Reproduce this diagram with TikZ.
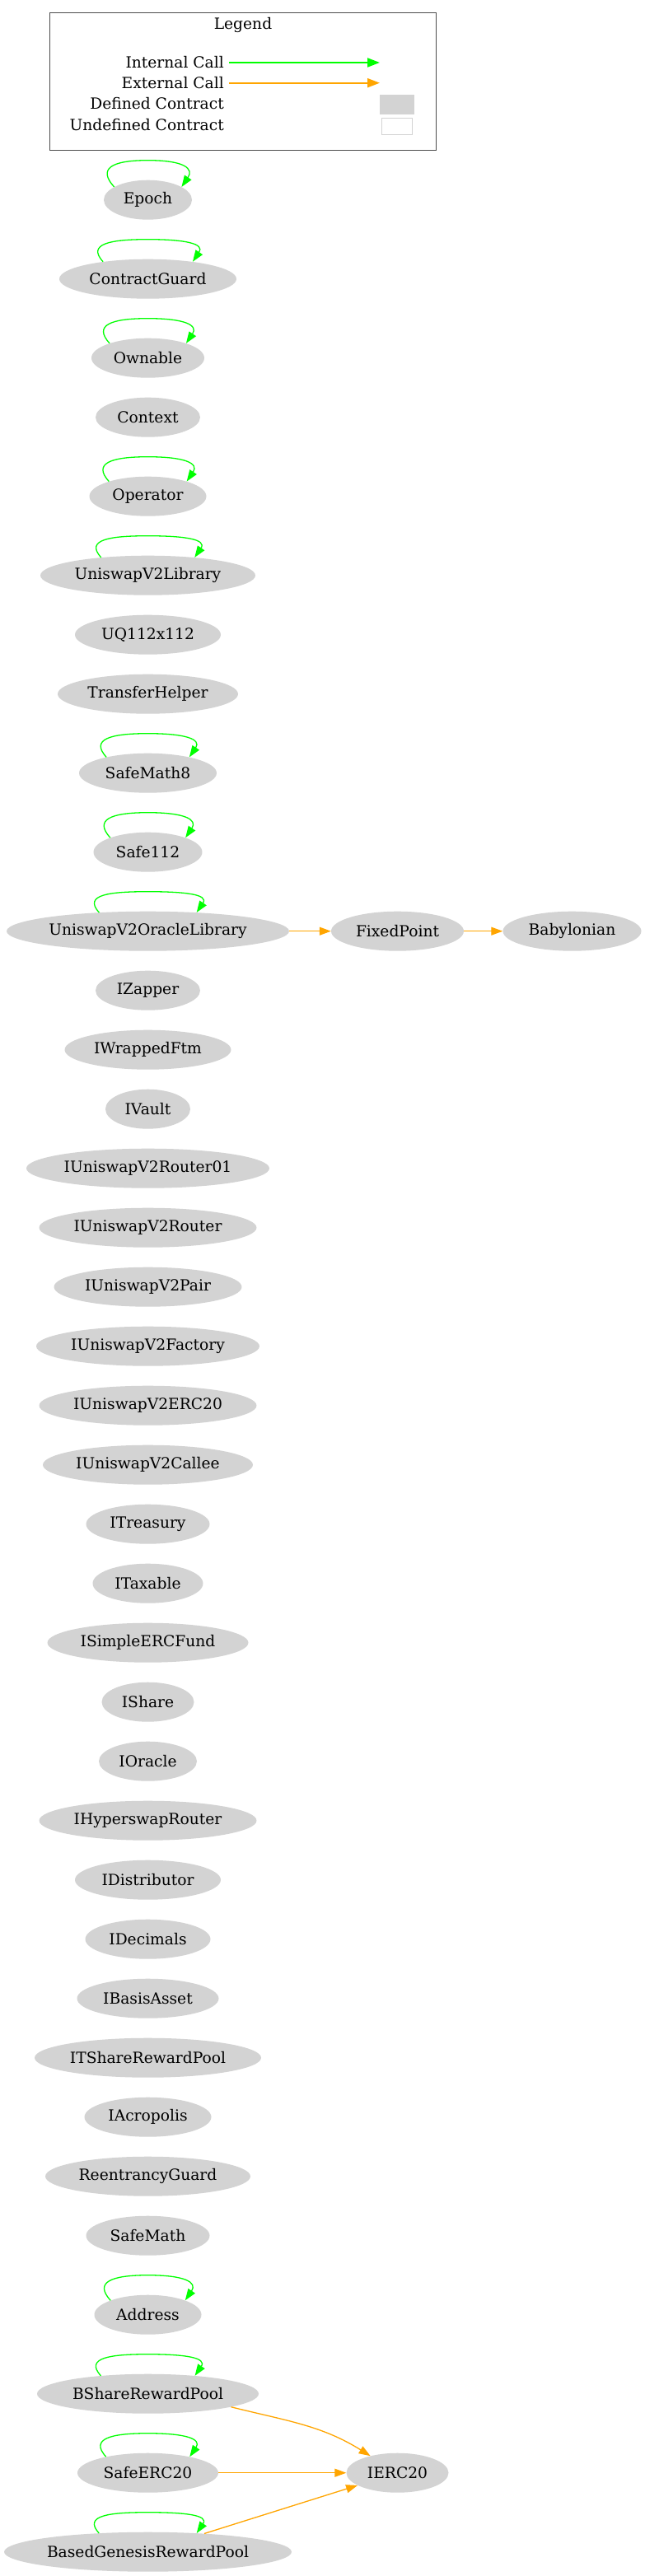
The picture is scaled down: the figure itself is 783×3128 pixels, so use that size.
\documentclass[tikz,border=0pt]{standalone}
\usepackage{fontspec}
\setmainfont{DejaVu Serif}
\usetikzlibrary{shapes.geometric, arrows.meta, positioning}
\definecolor{contractgray}{HTML}{D3D3D3}
\definecolor{callorange}{HTML}{FFA500}
\tikzstyle{contract} = [
  ellipse,
  minimum height=48pt,
  text centered,
  inner sep=0,
  fill=contractgray,
  font=\fontsize{18.67}{22}\selectfont
]
\tikzstyle{keytext} = [
  anchor=east,
  inner sep=0,
  font=\fontsize{18.67}{22}\selectfont
]
\tikzstyle{internal} = [
  draw=green,
  line width=1.3pt,
  -{Triangle[length=14pt,width=10pt]}
]
\tikzstyle{external} = [
  draw=callorange,
  line width=1.3pt,
  -{Triangle[length=14pt,width=10pt]}
]
\newcommand{\selfcall}[1]{\draw [internal] (#1.159) .. controls +(-20,22) and +(-45,0) .. ([yshift=48pt]#1.center) .. controls +(45,0) and +(15,22) .. (#1.21);}

\begin{document}
\begin{tikzpicture}[x=1pt, y=1pt, node distance=72pt]

    \useasboundingbox (0,0) rectangle (783,-3128);

    % legend
    \node (legendbox) [draw=black!70, line width=1.3pt, minimum width=469pt, minimum height=167pt, inner sep=0] at (294.8,-99.2) {};
    \node (legendtitle) [keytext, anchor=center] at (295,-30) {Legend};
    \node (internalkey) [keytext] at (272,-76) {Internal Call};
    \node (externalkey) [keytext] at (272,-100.7) {External Call};
    \node (definedkey) [keytext] at (272,-126) {Defined Contract};
    \node (undefinedkey) [keytext] at (272,-151.7) {Undefined Contract};
    \coordinate (internalend) at (461,-76);
    \coordinate (externalend) at (461,-100.7);
    \node (definedbox) [fill=contractgray, minimum width=42pt, minimum height=24pt, inner sep=0] at (482.4,-127.2) {};
    \node (undefinedbox) [draw=contractgray, line width=1.3pt, minimum width=37pt, minimum height=20pt, inner sep=0] at (482,-153.3) {};
    \draw [internal, line width=2pt, -{Triangle[length=15pt,width=11pt]}] ([xshift=6pt]internalkey.east) -- (internalend);
    \draw [external, line width=2pt, -{Triangle[length=15pt,width=11pt]}] ([xshift=6pt]externalkey.east) -- (externalend);

    % contracts
    \node (Epoch) [contract, minimum width=107pt] at (179.5,-242.7) {Epoch};
    \node (ContractGuard) [contract, minimum width=215pt, below of=Epoch, yshift=-24pt] {ContractGuard};
    \node (Ownable) [contract, minimum width=137pt, below of=ContractGuard, yshift=-24pt] {Ownable};
    \node (Context) [contract, minimum width=127pt, below of=Ownable] {Context};
    \node (Operator) [contract, minimum width=142pt, below of=Context, yshift=-24pt] {Operator};
    \node (UniswapV2Library) [contract, minimum width=261pt, below of=Operator, yshift=-24pt] {UniswapV2Library};
    \node (UQ112x112) [contract, minimum width=177pt, below of=UniswapV2Library] {UQ112x112};
    \node (TransferHelper) [contract, minimum width=219pt, below of=UQ112x112] {TransferHelper};
    \node (SafeMath8) [contract, minimum width=167pt, below of=TransferHelper, yshift=-24pt] {SafeMath8};
    \node (Safe112) [contract, minimum width=132pt, below of=SafeMath8, yshift=-24pt] {Safe112};
    \node (UniswapV2OracleLibrary) [contract, minimum width=343pt, below of=Safe112, yshift=-24pt] {UniswapV2OracleLibrary};
    \node (FixedPoint) [contract, minimum width=161pt, right of=UniswapV2OracleLibrary, xshift=231pt] {FixedPoint};
    \node (Babylonian) [contract, minimum width=168pt, right of=FixedPoint, xshift=140pt] {Babylonian};
    \node (IZapper) [contract, minimum width=127pt, below of=UniswapV2OracleLibrary] {IZapper};
    \node (IWrappedFtm) [contract, minimum width=202pt, below of=IZapper] {IWrappedFtm};
    \node (IVault) [contract, minimum width=103pt, below of=IWrappedFtm] {IVault};
    \node (IUniswapV2Router01) [contract, minimum width=295pt, below of=IVault] {IUniswapV2Router01};
    \node (IUniswapV2Router) [contract, minimum width=264pt, below of=IUniswapV2Router01] {IUniswapV2Router};
    \node (IUniswapV2Pair) [contract, minimum width=228pt, below of=IUniswapV2Router] {IUniswapV2Pair};
    \node (IUniswapV2Factory) [contract, minimum width=271pt, below of=IUniswapV2Pair] {IUniswapV2Factory};
    \node (IUniswapV2ERC20) [contract, minimum width=264pt, below of=IUniswapV2Factory] {IUniswapV2ERC20};
    \node (IUniswapV2Callee) [contract, minimum width=255pt, below of=IUniswapV2ERC20] {IUniswapV2Callee};
    \node (ITreasury) [contract, minimum width=150pt, below of=IUniswapV2Callee] {ITreasury};
    \node (ITaxable) [contract, minimum width=134pt, below of=ITreasury] {ITaxable};
    \node (ISimpleERCFund) [contract, minimum width=244pt, below of=ITaxable] {ISimpleERCFund};
    \node (IShare) [contract, minimum width=112pt, below of=ISimpleERCFund] {IShare};
    \node (IOracle) [contract, minimum width=119pt, below of=IShare] {IOracle};
    \node (IHyperswapRouter) [contract, minimum width=264pt, below of=IOracle] {IHyperswapRouter};
    \node (IDistributor) [contract, minimum width=177pt, below of=IHyperswapRouter] {IDistributor};
    \node (IDecimals) [contract, minimum width=152pt, below of=IDistributor] {IDecimals};
    \node (IBasisAsset) [contract, minimum width=172pt, below of=IDecimals] {IBasisAsset};
    \node (ITShareRewardPool) [contract, minimum width=275pt, below of=IBasisAsset] {ITShareRewardPool};
    \node (IAcropolis) [contract, minimum width=154pt, below of=ITShareRewardPool] {IAcropolis};
    \node (ReentrancyGuard) [contract, minimum width=249pt, below of=IAcropolis] {ReentrancyGuard};
    \node (SafeMath) [contract, minimum width=150pt, below of=ReentrancyGuard] {SafeMath};
    \node (Address) [contract, minimum width=130pt, below of=SafeMath, yshift=-24pt] {Address};
    \node (BShareRewardPool) [contract, minimum width=269pt, below of=Address, yshift=-24pt] {BShareRewardPool};
    \node (SafeERC20) [contract, minimum width=171pt, below of=BShareRewardPool, yshift=-24pt] {SafeERC20};
    \node (IERC20) [contract, minimum width=124pt, right of=SafeERC20, xshift=231pt] {IERC20};
    \node (BasedGenesisRewardPool) [contract, minimum width=349pt, below of=SafeERC20, yshift=-24pt] {BasedGenesisRewardPool};

    % internal calls
    \selfcall{Epoch}
    \selfcall{ContractGuard}
    \selfcall{Ownable}
    \selfcall{Operator}
    \selfcall{UniswapV2Library}
    \selfcall{SafeMath8}
    \selfcall{Safe112}
    \selfcall{UniswapV2OracleLibrary}
    \selfcall{Address}
    \selfcall{BShareRewardPool}
    \selfcall{SafeERC20}
    \selfcall{BasedGenesisRewardPool}

    % external calls
    \draw [external] (UniswapV2OracleLibrary) -- (FixedPoint);
    \draw [external] (FixedPoint) -- (Babylonian);
    \draw [external] (BShareRewardPool.-9) to[out=-14, in=148] (IERC20);
    \draw [external] (SafeERC20) -- (IERC20);
    \draw [external] (BasedGenesisRewardPool.18) -- (IERC20);

\end{tikzpicture}
\end{document}
